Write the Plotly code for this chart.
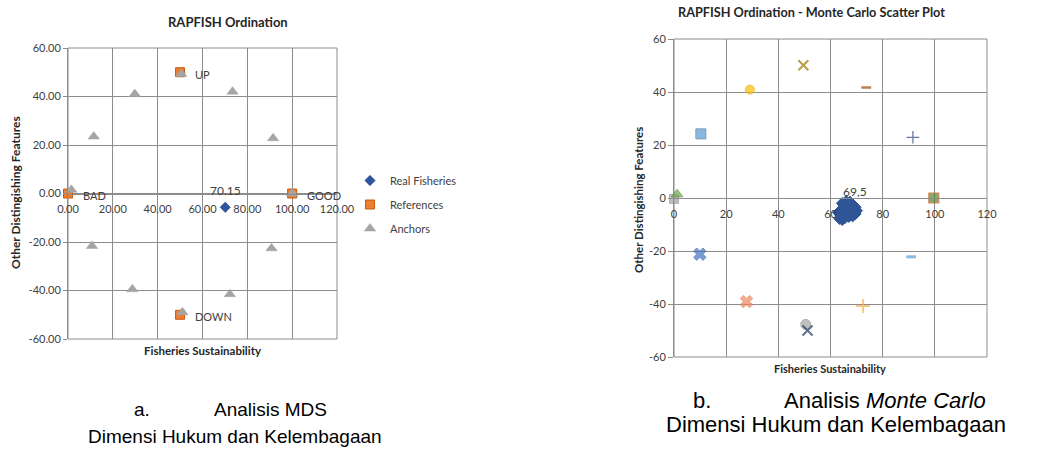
import plotly.graph_objects as go

# ---------------- data: chart a (MDS) ----------------
real_names = ["Real Fisheries"]
real_x = [70.15]
real_y = [-5.7]
real_label = ["70.15"]

ref_x = [0, 100, 50, 50]
ref_y = [0, 0, 50, -50]
ref_labels = ["BAD", "GOOD", "UP", "DOWN"]

anchor_x = [1.5, 11.5, 29.8, 50.5, 73.4, 91.5, 100, 10.7, 28.7, 51.0, 72.2, 90.8]
anchor_y = [1.5, 23.5, 41.0, 49.3, 42.0, 22.8, 0.0, -21.6, -39.5, -49.0, -41.5, -22.6]

ticks = [-60, -40, -20, 0, 20, 40, 60]
xticks = [0, 20, 40, 60, 80, 100, 120]

# ---------------- data: chart b (Monte Carlo) ----------------
mc_blob_x = [64.5, 66.0, 67.5, 68.5, 69.5, 70.0, 69.5, 68.5, 67.0, 66.0, 65.0, 64.5,
             65.5, 67.0, 68.0, 66.5, 64.0, 63.5, 64.5, 65.5, 63.0, 66.5, 68.8, 67.8]
mc_blob_y = [-2.0, -1.3, -1.5, -2.5, -3.5, -4.8, -6.0, -6.8, -7.0, -6.5, -5.5, -4.0,
             -3.0, -3.5, -4.5, -5.0, -6.5, -7.8, -8.2, -7.5, -5.5, -2.2, -5.5, -6.0]
mc_label = "69,5"
mc_label_x = 69.5

mc_x = [0.0, 1.2, 10.3, 29.1, 49.6, 73.7, 91.6, 99.6, 90.9, 72.5, 9.9, 27.8, 50.5, 51.2]
mc_y = [-0.3, 1.4, 24.2, 40.9, 50.1, 41.7, 22.9, 0.0, -22.2, -40.8, -21.2, -39.1, -47.7, -50.0]

# styles for chart b points
mc_symbols = ["square", "triangle-up", "square", "circle", "x-thin", "line-ew", "cross-thin",
              "square", "line-ew", "cross-thin", "x", "x", "circle", "x-thin"]
mc_colors = ["#A5A5A5", "#70AD47", "#5B9BD5", "#FFC000", "#997300", "#9E480E", "#264478",
             "#548235", "#5B9BD5", "#F4B04A", "#4472C4", "#F1875A", "#A5A5A5", "#203864"]
mc_line_colors = ["#8A8A8A", "#507E32", "#41719C", "#E0A800", "#997300", "#9E480E", "#264478",
                  "#C55A11", "#5B9BD5", "#F4B04A", "#3A62AE", "#E07A4F", "#8C8C8C", "#203864"]
mc_sizes = [9, 10, 10, 9, 10, 7, 9, 10, 7, 10, 11, 11, 10, 10]
mc_lw = [1, 1, 1, 1, 2, 2.5, 1.3, 1.2, 3, 2, 1, 1, 1, 2]

W, H = 1044, 451
FONT = "Lato, Carlito, Calibri, 'Noto Sans', sans-serif"
CAP = "'Liberation Sans', Arial, sans-serif"
GRID = "#8C8C8C"
TXT = "#404040"


def px(v):
    return v / W


def py(v):
    return 1 - v / H


fig = go.Figure()

# ---- chart a traces ----
fig.add_trace(go.Scatter(x=real_x, y=real_y, mode="markers", name=real_names[0],
                         marker=dict(symbol="diamond", size=8, color="#2F55A0",
                                     line=dict(color="#1F3C7A", width=0.5)),
                         xaxis="x", yaxis="y", legendgroup="a1", cliponaxis=False))
fig.add_trace(go.Scatter(x=ref_x, y=ref_y, mode="markers", name="References",
                         marker=dict(symbol="square", size=9, color="#ED7D31",
                                     line=dict(color="#C55A11", width=1)),
                         xaxis="x", yaxis="y", legendgroup="a2", cliponaxis=False))
fig.add_trace(go.Scatter(x=anchor_x, y=anchor_y, mode="markers", name="Anchors",
                         marker=dict(symbol="triangle-up", size=10, color="#A5A5A5",
                                     line=dict(color="#A5A5A5", width=0.5)),
                         xaxis="x", yaxis="y", legendgroup="a3", cliponaxis=False))

# ---- chart b traces ----
fig.add_trace(go.Scatter(x=mc_blob_x, y=mc_blob_y, mode="markers", name="MC Real Fisheries",
                         marker=dict(symbol="diamond", size=9, color="#2F5597",
                                     line=dict(color="#2F5597", width=1)),
                         xaxis="x2", yaxis="y2", showlegend=False, cliponaxis=False))
fig.add_trace(go.Scatter(x=mc_x, y=mc_y, mode="markers", name="MC Anchors",
                         marker=dict(symbol=mc_symbols, size=mc_sizes, color=mc_colors,
                                     line=dict(color=mc_line_colors, width=mc_lw)),
                         xaxis="x2", yaxis="y2", showlegend=False, cliponaxis=False))

# ---- geometry ----
a_x0, a_x1, a_yt, a_yb = 68, 337, 48, 339
b_x0, b_x1, b_yt, b_yb = 674, 987, 39, 357

tickfont = dict(family=FONT, size=11, color=TXT)

fig.update_layout(
    template="none",
    width=W, height=H, autosize=False,
    margin=dict(l=0, r=0, t=0, b=0, pad=0, autoexpand=False),
    paper_bgcolor="white", plot_bgcolor="white",
    font=dict(family=FONT, color=TXT),
    xaxis=dict(domain=[px(a_x0), px(a_x1)], range=[0, 120], tickvals=xticks,
               ticktext=["%.2f" % v for v in xticks], anchor="free",
               position=(py(a_yb) + py(a_yt)) / 2, showgrid=True, gridcolor=GRID,
               gridwidth=1, zeroline=False, showline=True, linecolor=GRID,
               ticks="", tickfont=tickfont, automargin=False, ticklabelstandoff=5),
    yaxis=dict(domain=[py(a_yb), py(a_yt)], range=[-60, 60], tickvals=ticks,
               ticktext=["%.2f" % v for v in ticks], anchor="x", showgrid=True,
               gridcolor=GRID, zeroline=False, showline=True, linecolor=GRID,
               ticks="outside", ticklen=4, tickcolor=GRID, tickfont=tickfont,
               automargin=False),
    xaxis2=dict(domain=[px(b_x0), px(b_x1)], range=[0, 120], tickvals=xticks,
                ticktext=[str(v) for v in xticks], anchor="free",
                position=(py(b_yb) + py(b_yt)) / 2, showgrid=True, gridcolor=GRID,
                zeroline=False, showline=True, linecolor=GRID, ticks="",
                tickfont=tickfont, automargin=False, ticklabelstandoff=6),
    yaxis2=dict(domain=[py(b_yb), py(b_yt)], range=[-60, 60], tickvals=ticks,
                ticktext=[str(v) for v in ticks], anchor="x2", showgrid=True,
                gridcolor=GRID, zeroline=False, showline=True, linecolor=GRID,
                ticks="outside", ticklen=5, tickcolor=GRID, tickfont=tickfont,
                automargin=False),
    legend=dict(x=px(350), y=py(166), xanchor="left", yanchor="top",
                font=dict(family=FONT, size=11, color=TXT), bgcolor="rgba(0,0,0,0)",
                borderwidth=0, tracegroupgap=5, itemclick=False),
    showlegend=True,
)

shapes = []
for xr, yr in (("x domain", "y domain"), ("x2 domain", "y2 domain")):
    shapes.append(dict(type="rect", xref=xr, yref=yr, x0=0, x1=1, y0=0, y1=1,
                       line=dict(color=GRID, width=1), layer="below"))
fig.update_layout(shapes=shapes)

ann = []
# reference labels
for lx, ly, lt in zip(ref_x, ref_y, ref_labels):
    ann.append(dict(x=lx, y=ly, xref="x", yref="y", text=lt, showarrow=False,
                    xanchor="left", yanchor="middle", xshift=13, yshift=-2,
                    font=dict(family=FONT, size=11, color=TXT)))
# real fisheries label
ann.append(dict(x=real_x[0], y=real_y[0], xref="x", yref="y", text=real_label[0],
                showarrow=False, xanchor="center", yanchor="middle", yshift=17,
                font=dict(family=FONT, size=12, color=TXT)))
# MC label
ann.append(dict(x=mc_label_x, y=max(mc_blob_y), xref="x2", yref="y2", text=mc_label,
                showarrow=False, xanchor="center", yanchor="middle", yshift=10,
                font=dict(family=FONT, size=12, color=TXT)))


def pann(x, y, text, font, **kw):
    d = dict(x=px(x), y=py(y), xref="paper", yref="paper", text=text, showarrow=False,
             xanchor="center", yanchor="middle", font=font)
    d.update(kw)
    ann.append(d)


# titles
pann(228, 22, "<b>RAPFISH Ordination</b>", dict(family=FONT, size=13, color="#262626"))
pann(811, 12, "<b>RAPFISH Ordination - Monte Carlo Scatter Plot</b>",
     dict(family=FONT, size=12.7, color="#262626"))
# axis titles
pann(203, 350, "<b>Fisheries Sustainability</b>", dict(family=FONT, size=11.5, color="#262626"))
pann(15, 193, "<b>Other Distingishing Features</b>",
     dict(family=FONT, size=12, color="#262626"), textangle=-90)
pann(830, 368, "<b>Fisheries Sustainability</b>", dict(family=FONT, size=11, color="#262626"))
pann(638, 200, "<b>Other Distingishing Features</b>",
     dict(family=FONT, size=11.5, color="#262626"), textangle=-90)
# captions
capa = dict(family=CAP, size=19, color="black")
capb = dict(family=CAP, size=22, color="black")
pann(142, 409, "a.", capa)
pann(270, 409, "Analisis MDS", capa)
pann(235, 436, "Dimensi Hukum dan Kelembagaan", capa)
pann(702, 400, "b.", capb)
pann(885, 400, "Analisis <i>Monte Carlo</i>", capb)
pann(836, 424, "Dimensi Hukum dan Kelembagaan", capb)
fig.update_layout(annotations=ann)

fig.write_html("out.html", config={"displayModeBar": False, "staticPlot": True},
               post_script="document.body.style.margin='0';")
